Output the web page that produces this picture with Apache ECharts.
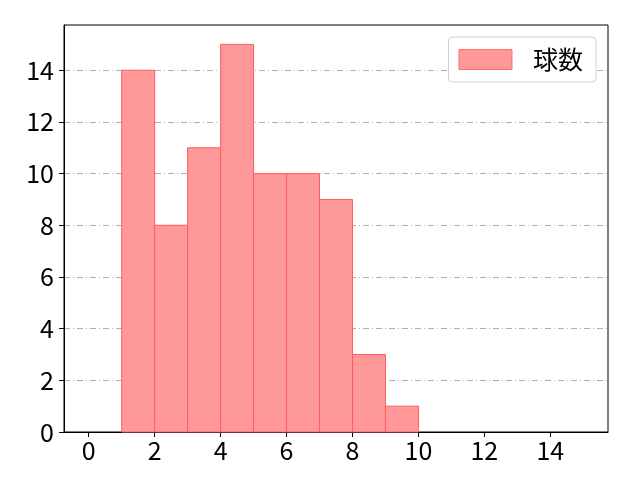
<!DOCTYPE html>
<html>
<head>
<meta charset="utf-8">
<script src="https://cdn.jsdelivr.net/npm/echarts@6/dist/echarts.min.js"></script>
<style>html,body{margin:0;padding:0;background:#fff}#c{width:640px;height:480px}</style>
</head>
<body>
<div id="c"></div>
<script>
var binStarts = [1, 2, 3, 4, 5, 6, 7, 8, 9];
var binEnds = [2, 3, 4, 5, 6, 7, 8, 9, 10];
var counts = [14, 8, 11, 15, 10, 10, 9, 3, 1];
var xTicks = [0, 2, 4, 6, 8, 10, 12, 14];
var yTicks = [0, 2, 4, 6, 8, 10, 12, 14];
var seriesName = '球数';

var data = binStarts.map(function (s, i) { return [s, binEnds[i], counts[i]]; });
var font = '"Noto Sans CJK JP", "DejaVu Sans", sans-serif';

var chart = echarts.init(document.getElementById('c'), null, {renderer: 'canvas'});
chart.setOption({
  animation: false,
  backgroundColor: '#fff',
  grid: {left: 64, right: 32, top: 25, bottom: 48, show: true, borderColor: '#000', borderWidth: 1, backgroundColor: 'transparent'},
  legend: {
    show: true,
    data: [{name: seriesName, icon: 'rect', itemStyle: {color: '#ff9999', borderColor: '#ff7070', borderWidth: 1}}],
    right: 44, top: 37,
    itemWidth: 53, itemHeight: 20, itemGap: 10,
    padding: [10, 13, 10, 10],
    borderColor: '#d0d0d0', borderWidth: 1, borderRadius: 4,
    backgroundColor: '#fff',
    textStyle: {fontSize: 25, color: '#000', fontFamily: font, padding: [0, 0, 0, 16]}
  },
  xAxis: {
    type: 'value', min: -0.75, max: 15.75, interval: 2,
    axisLine: {show: true, onZero: false, lineStyle: {color: '#000', width: 1}},
    axisTick: {show: true, length: 5, lineStyle: {color: '#000'}, customValues: xTicks},
    axisLabel: {show: true, fontSize: 25, color: '#000', fontFamily: font, margin: 6, customValues: xTicks},
    splitLine: {show: false}
  },
  yAxis: {
    type: 'value', min: 0, max: 15.75, interval: 2,
    axisLine: {show: true, onZero: false, lineStyle: {color: '#000', width: 1}},
    axisTick: {show: true, length: 5, lineStyle: {color: '#000'}, customValues: yTicks},
    axisLabel: {show: true, fontSize: 25, color: '#000', fontFamily: font, margin: 10, customValues: yTicks},
    splitLine: {show: true, lineStyle: {color: '#b0b0b0', width: 1, type: [6, 3, 1, 3]}}
  },
  series: [{
    name: seriesName,
    type: 'custom',
    z: 1,
    itemStyle: {color: '#ff9999', borderColor: '#ff5c5c', borderWidth: 1},
    renderItem: function (params, api) {
      var p0 = api.coord([api.value(0), api.value(2)]);
      var p1 = api.coord([api.value(1), 0]);
      return {
        type: 'rect',
        shape: {x: p0[0], y: p0[1], width: p1[0] - p0[0], height: p1[1] - p0[1]},
        style: {fill: '#ff9999', stroke: '#ff5c5c', lineWidth: 1}
      };
    },
    encode: {x: [0, 1], y: 2},
    data: data
  }]
});
</script>
</body>
</html>
